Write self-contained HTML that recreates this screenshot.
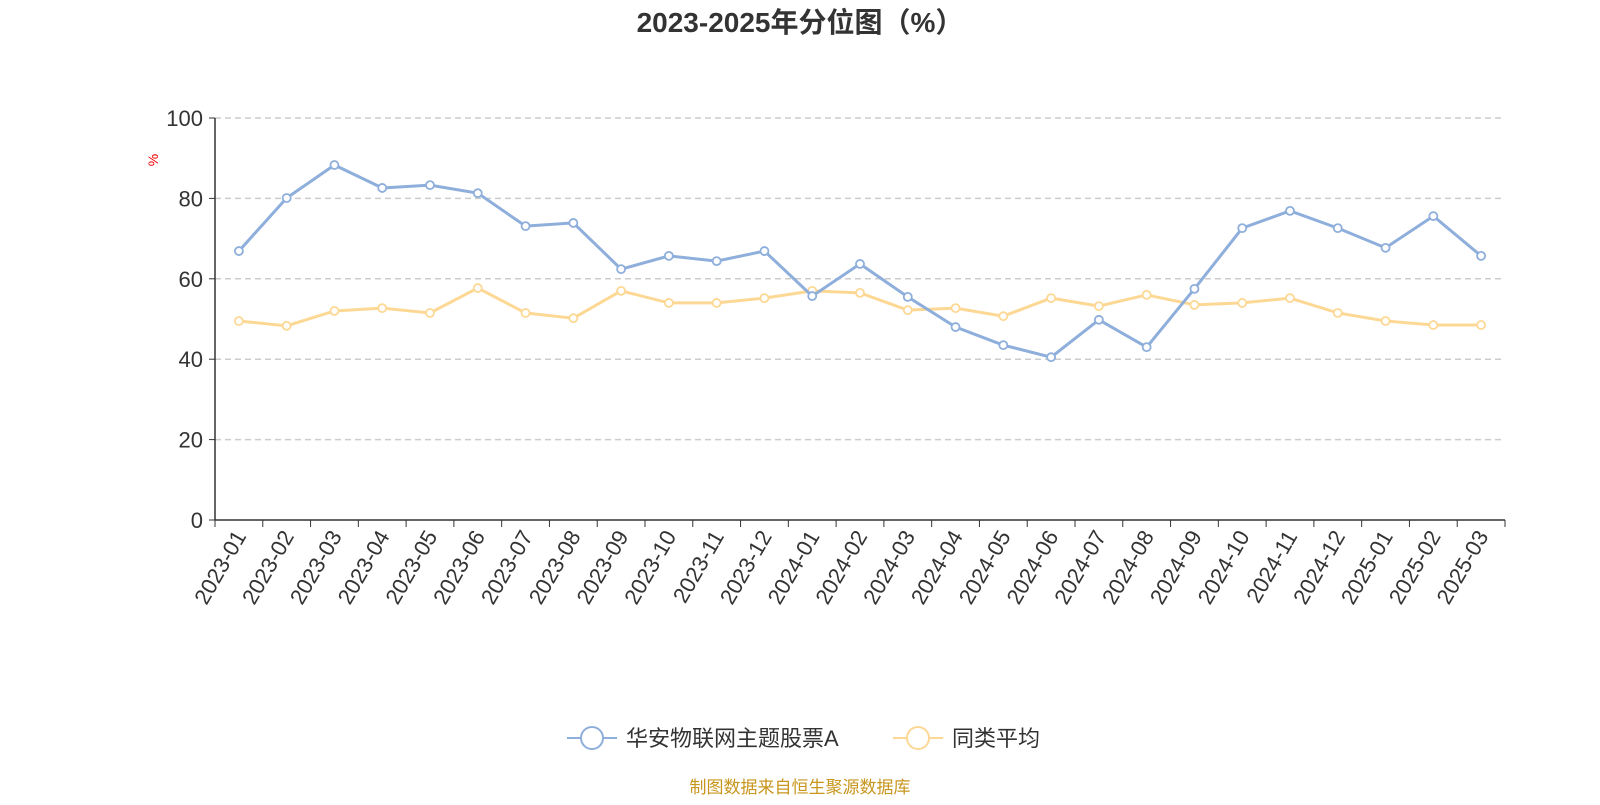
<!DOCTYPE html>
<html><head><meta charset="utf-8"><style>
body{margin:0;background:#fff;width:1600px;height:800px;overflow:hidden;font-family:"Liberation Sans","Noto Sans CJK SC",sans-serif;}
</style></head><body>
<svg id="c" width="1600" height="800" xmlns="http://www.w3.org/2000/svg">
<text x="800" y="32" text-anchor="middle" font-size="28" font-weight="bold" fill="#333" font-family="Liberation Sans,Noto Sans CJK SC,sans-serif">2023-2025年分位图（%）</text>
<text x="158" y="160" transform="rotate(-90 158 160)" text-anchor="middle" font-size="14" fill="#e00">%</text>
<g id="grid"></g><g id="axes"></g><g id="series"></g>
<g>
<g>
<line x1="567" y1="738" x2="617" y2="738" stroke="#8eaedb" stroke-width="2"/>
<circle cx="592" cy="738" r="11" fill="#fff" stroke="#8eaedb" stroke-width="2"/>
<text x="626" y="746" font-size="22" fill="#333">华安物联网主题股票A</text></g>
<g>
<line x1="893" y1="738" x2="943" y2="738" stroke="#fdd894" stroke-width="2"/>
<circle cx="918" cy="738" r="11" fill="#fff" stroke="#fdd894" stroke-width="2"/>
<text x="952" y="746" font-size="22" fill="#333">同类平均</text></g>
</g>
<text x="800" y="793" text-anchor="middle" font-size="17" fill="#c8961e">制图数据来自恒生聚源数据库</text>
</svg>
<script>
const categories=["2023-01","2023-02","2023-03","2023-04","2023-05","2023-06","2023-07","2023-08","2023-09","2023-10","2023-11","2023-12","2024-01","2024-02","2024-03","2024-04","2024-05","2024-06","2024-07","2024-08","2024-09","2024-10","2024-11","2024-12","2025-01","2025-02","2025-03"];
const fundValues=[66.9,80.1,88.3,82.6,83.3,81.3,73.1,73.9,62.4,65.7,64.4,66.9,55.7,63.7,55.5,48.0,43.5,40.5,49.8,43.0,57.5,72.6,76.9,72.6,67.7,75.6,65.7];
const avgValues=[49.5,48.3,52.0,52.7,51.5,57.7,51.5,50.2,57.0,54.0,54.0,55.2,57.0,56.5,52.2,52.7,50.7,55.2,53.2,56.0,53.5,54.0,55.2,51.5,49.5,48.5,48.5];
const yTicks=[0,20,40,60,80,100];
const NS="http://www.w3.org/2000/svg";
const L=215,R=1505,T=118,B=520;
const bw=(R-L)/categories.length;
const xs=i=>L+bw*(i+0.5);
const ys=v=>B-(v/100)*(B-T);
function mk(tag,attrs,parent){const e=document.createElementNS(NS,tag);for(const k in attrs)e.setAttribute(k,attrs[k]);parent.appendChild(e);return e;}
const grid=document.getElementById('grid'),axes=document.getElementById('axes'),series=document.getElementById('series');
yTicks.forEach(t=>{
  const y=ys(t);
  if(t>0){const g=mk('line',{x1:L,x2:R,y1:y,y2:y,stroke:'#ccc','stroke-dasharray':'6,4','stroke-width':1.5},grid);
  
  }
  mk('line',{x1:L-6,x2:L,y1:y,y2:y,stroke:'#333'},axes);
  const tx=mk('text',{x:L-12,y:y+8,'text-anchor':'end','font-size':22,fill:'#333'},axes);
  tx.textContent=t;
  
  
});
const ya=mk('line',{x1:L,x2:L,y1:T,y2:B,stroke:'#333','stroke-width':1.5},axes);


const xa=mk('line',{x1:L,x2:R,y1:B,y2:B,stroke:'#333','stroke-width':1.5},axes);


for(let i=0;i<=categories.length;i++){mk('line',{x1:L+bw*i,x2:L+bw*i,y1:B,y2:B+7,stroke:'#333'},axes);}
categories.forEach((c,i)=>{
  const x=xs(i)+8,y=B+16;
  const tx=mk('text',{x:x,y:y,'text-anchor':'end','font-size':22,fill:'#333',transform:`rotate(-60 ${x} ${y})`},axes);
  tx.textContent=c;
  
  
});
function draw(vals,color,name){
  const p=mk('polyline',{points:vals.map((v,i)=>xs(i)+','+ys(v)).join(' '),fill:'none',stroke:color,'stroke-width':3},series);
  
  
  vals.forEach((v,i)=>{
    const c=mk('circle',{cx:xs(i),cy:ys(v),r:4,fill:'#fff',stroke:color,'stroke-width':1.8},series);
    
    
  });
}
draw(avgValues,'#fdd894','average');
draw(fundValues,'#8eaedb','fund');
</script>
</body></html>
